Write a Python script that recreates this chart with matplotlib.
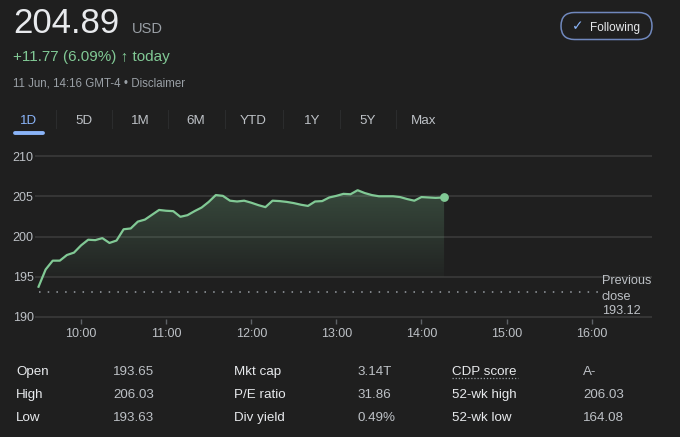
import numpy as np
import matplotlib.pyplot as plt
from matplotlib.patches import FancyBboxPatch, Polygon

plt.rcParams['font.family'] = ['Liberation Sans', 'DejaVu Sans']

OUTPUT = "out.png"

BG = "#1f1f1f"
GREEN = "#81c995"
BLUE = "#8ab4f8"
GRID = "#3a3a3a"
TXT = "#e8eaed"
SUB = "#bdc1c6"
DIM = "#9aa0a6"

# --- data ---
# 5-minute prices from 9:30, last point at 14:16
prices = [193.76, 195.9, 197.0, 197.0, 197.7, 198.0, 198.9, 199.6, 199.55, 199.8,
          199.2, 199.5, 200.9, 201.0, 201.85, 202.1, 202.7, 203.3, 203.2, 203.15,
          202.45, 202.65, 203.15, 203.6, 204.3, 205.15, 205.05, 204.45, 204.35, 204.45,
          204.2, 203.9, 203.65, 204.45, 204.4, 204.3, 204.15, 203.95, 203.8, 204.35,
          204.4, 204.85, 205.05, 205.3, 205.25, 205.75, 205.4, 205.15, 205.0, 205.0,
          205.0, 204.9, 204.65, 204.45, 204.9, 204.85, 204.8, 204.85]
minutes = list(range(0, 285, 5)) + [286]   # minutes after 9:30
last_price = "204.89"
change_text = "+11.77 (6.09%) \u2191 today"
prev_close = 193.12

y_ticks = [190, 195, 200, 205, 210]
x_tick_labels = ["10:00", "11:00", "12:00", "13:00", "14:00", "15:00", "16:00"]
x_ticks = [30, 90, 150, 210, 270, 330, 390]

tabs = ["1D", "5D", "1M", "6M", "YTD", "1Y", "5Y", "Max"]

stat_labels = [["Open", "High", "Low"],
               ["Mkt cap", "P/E ratio", "Div yield"],
               ["CDP score", "52-wk high", "52-wk low"]]
stat_values = [["193.65", "206.03", "193.63"],
               ["3.14T", "31.86", "0.49%"],
               ["A-", "206.03", "164.08"]]

fig = plt.figure(figsize=(6.8, 4.37), dpi=100, facecolor=BG)

# === price chart ===
ax = fig.add_axes([35 / 680, 1 - 319 / 437, (652 - 35) / 680, (319 - 152) / 437])
ax.set_facecolor(BG)
ax.set_xlim(-2.5, 432.6)
ax.set_ylim(189.75, 210.5)
for s in ax.spines.values():
    s.set_visible(False)

for yv in y_ticks:
    ax.axhline(yv, color=GRID, lw=1.2, zorder=0)

ax.set_yticks(y_ticks)
ax.set_yticklabels([str(v) for v in y_ticks], color=SUB, fontsize=9)
ax.tick_params(axis="y", length=0, pad=1)
ax.set_xticks(x_ticks)
ax.set_xticklabels(x_tick_labels, color=SUB, fontsize=9)
ax.tick_params(axis="x", length=3.6, width=1, color="#5f6368", pad=3)

# gradient fill under the line, down to 195
poly = Polygon(np.column_stack([[minutes[0]] + minutes + [minutes[-1]],
                                [195] + prices + [195]]),
               closed=True, transform=ax.transData, facecolor="none", edgecolor="none")
ax.add_patch(poly)
grad = np.zeros((256, 1, 4))
grad[:, 0, :3] = np.array([0x81, 0xc9, 0x95]) / 255
grad[:, 0, 3] = np.linspace(0.26, 0.03, 256)
img = ax.imshow(grad, extent=[minutes[0], minutes[-1], 195, 206.2], aspect="auto",
                origin="upper", zorder=1, interpolation="bilinear")
img.set_clip_path(poly)

ax.plot(minutes, prices, color=GREEN, lw=1.6, zorder=3, solid_joinstyle="round")
ax.plot(minutes[-1], prices[-1], "o", color=GREEN, ms=5.3, zorder=4)

# previous close dotted line
ax.plot([minutes[0], 394.5], [prev_close, prev_close], color=DIM, lw=1.1,
        linestyle=(0, (1, 4.7)), zorder=2)

# === overlay in pixel coordinates for header / table ===
ov = fig.add_axes([0, 0, 1, 1])
ov.set_xlim(0, 680)
ov.set_ylim(437, 0)
ov.axis("off")

ov.text(13, 33, last_price, fontsize=25, color=TXT, va="baseline")
ov.text(132, 33, "USD", fontsize=10.5, color=DIM, va="baseline")
ov.text(13, 61.5, change_text, fontsize=11, color=GREEN, va="baseline")
ov.text(13, 86, "11 Jun, 14:16 GMT-4 \u2022 Disclaimer", fontsize=8.3, color=DIM, va="baseline")

# tabs
tab_x = [28.3, 84.2, 140.5, 196, 253.3, 312, 367.5, 424]
for i, (t, tx) in enumerate(zip(tabs, tab_x)):
    ov.text(tx, 124, t, fontsize=9.6, color=BLUE if i == 0 else SUB,
            ha="center", va="baseline")
    if i < len(tabs) - 1:
        sx = (tx + tab_x[i + 1]) / 2
        ov.plot([sx, sx], [110, 128], color="#2b2c2d", lw=0.8)
ov.plot([14.5, 42.5], [133, 133], color=BLUE, lw=2.8, solid_capstyle="round")

# following button
btn = FancyBboxPatch((561, 12.5), 91, 27, boxstyle="round,pad=0,rounding_size=13.5",
                     facecolor="none", edgecolor="#7088bd", lw=1.1)
ov.add_patch(btn)
ov.text(577.5, 26.5, "\u2713", fontsize=10, color=BLUE, ha="center", va="center",
        family="DejaVu Sans")
ov.text(590, 30.5, "Following", fontsize=8.5, color=TXT, va="baseline")

# previous close label
for line, by in zip(["Previous", "close", f"{prev_close:.2f}"], [284, 299.5, 314.5]):
    ov.text(602, by, line, fontsize=9.1, color=SUB, va="baseline")

# stats table
col_label_x = [16, 234, 452]
col_value_x = [113, 357, 583]
row_y = [375, 398, 421]
for c in range(3):
    for r in range(3):
        ov.text(col_label_x[c], row_y[r], stat_labels[c][r], fontsize=9.6,
                color=TXT, va="baseline")
        ov.text(col_value_x[c], row_y[r], stat_values[c][r], fontsize=9.6,
                color=SUB, va="baseline")
ov.plot([452, 518], [378, 378], color=DIM, lw=0.9, linestyle=(0, (1, 1.5)))

fig.savefig(OUTPUT, dpi=100, facecolor=BG)
